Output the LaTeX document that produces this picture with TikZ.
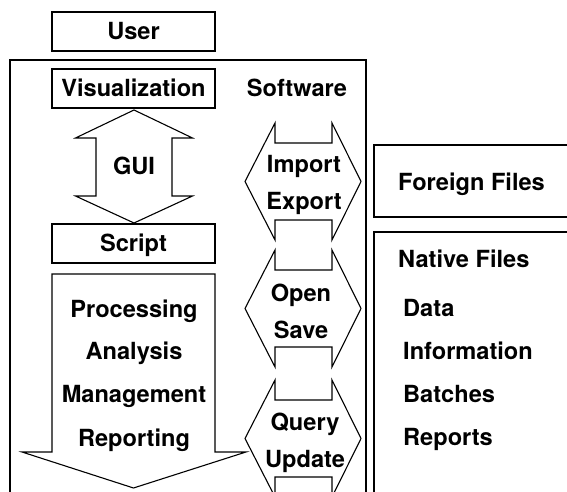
\documentclass[tikz,border=0pt]{standalone}
\usepackage{fontspec}
\setmainfont{TeX Gyre Heros}
\newcommand\LRdoublearrow[1]{%
  \draw[shapeline] (245,#1-58.5) -- (275,#1) -- (275,#1-20) -- (332,#1-20) -- (332,#1)
    -- (361,#1-58.5) -- (332,#1-117) -- (332,#1-97) -- (275,#1-97) -- (275,#1-117) -- cycle;}
\begin{document}
\begin{tikzpicture}[x=1pt,y=1pt,
  shapeline/.style={line width=1.1pt,line join=miter},
  lbl/.style={inner sep=0pt,font=\fontsize{23.6}{28}\selectfont\bfseries,anchor=base},
  lbll/.style={lbl,anchor=base west}]
\useasboundingbox (0,0) rectangle (567,492);
\clip (0,0) rectangle (567,492);
% Software frame
\draw[shapeline] (10,-10) -- (10,432) -- (366,432) -- (366,-10);
% file boxes
\draw[shapeline] (580,347) -- (374,347) -- (374,275) -- (580,275);
\draw[shapeline] (580,260) -- (374,260) -- (374,-10);
% boxes
\draw[shapeline] (52,441) rectangle (215,480);
\draw[shapeline] (52,384) rectangle (215,423);
\draw[shapeline] (52,229) rectangle (215,268);
% GUI double arrow
\draw[shapeline] (134,382) -- (192.5,354) -- (172,354) -- (172,296) -- (192.5,296)
  -- (134,269) -- (75.5,296) -- (96,296) -- (96,354) -- (75.5,354) -- cycle;
% big down arrow
\draw[shapeline] (52,218) -- (215,218) -- (215,40) -- (246,40) -- (133.5,4)
  -- (22,40) -- (52,40) -- cycle;
% left-right double arrows
\LRdoublearrow{369}
\LRdoublearrow{242}
\LRdoublearrow{112}
% labels
\node[lbl] (user) at (133.5,452) {User};
\node[lbl] (vis) at (133.5,395) {Visualization};
\node[lbl] (soft) at (297,395) {Software};
\node[lbl] (gui) at (134,317) {GUI};
\node[lbl] (script) at (133.5,240) {Script};
\node[lbl] (proc) at (134,174) {Processing};
\node[lbl] (anal) at (134,132) {Analysis};
\node[lbl] (mgmt) at (134,89) {Management};
\node[lbl] (rep) at (134,45) {Reporting};
\node[lbl] (imp) at (304,319) {Import};
\node[lbl] (exp) at (304,282) {Export};
\node[lbl] (open) at (301,190) {Open};
\node[lbl] (save) at (301,153) {Save};
\node[lbl] (query) at (305,61) {Query};
\node[lbl] (upd) at (305,24) {Update};
\node[lbll] (foreign) at (398,301) {Foreign Files};
\node[lbll] (native) at (398,224) {Native Files};
\node[lbll] (data) at (403,175) {Data};
\node[lbll] (info) at (403,132) {Information};
\node[lbll] (batch) at (403,89) {Batches};
\node[lbll] (reports) at (403,46) {Reports};
\end{tikzpicture}
\end{document}
